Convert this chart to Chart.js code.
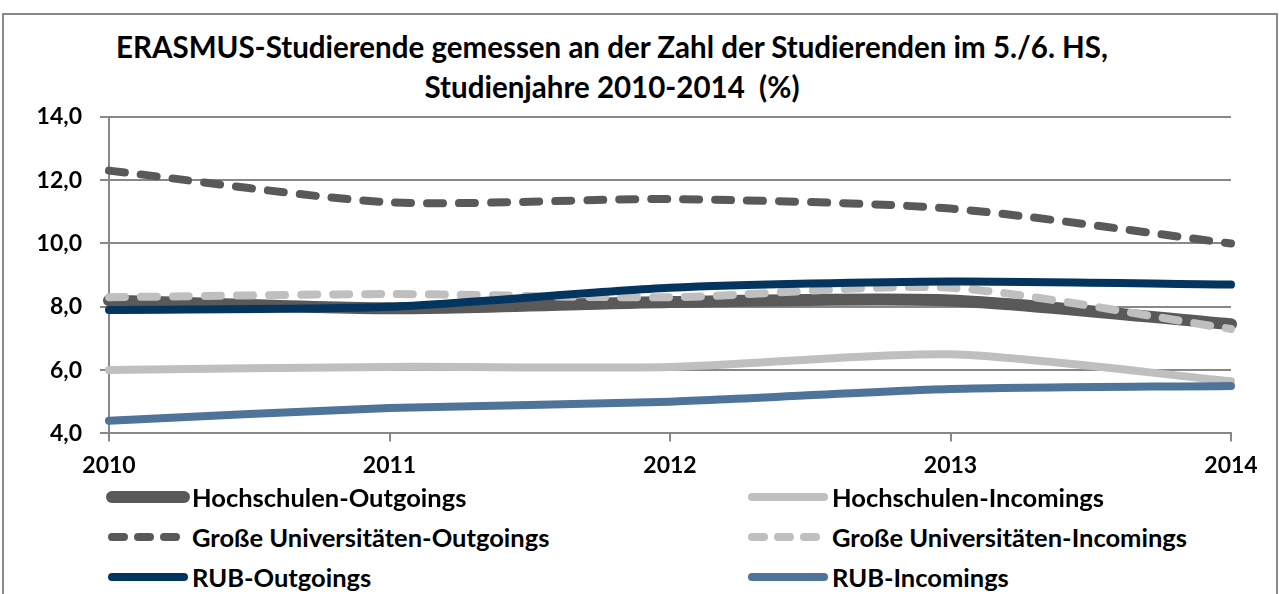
<!DOCTYPE html>
<html>
<head>
<meta charset="utf-8">
<script src="https://cdn.jsdelivr.net/npm/chart.js@4.4.1/dist/chart.umd.min.js"></script>
<style>
  body { margin: 0; background: #fff; font-family: Lato, sans-serif; }
  #wrap { position: relative; width: 1279px; height: 594px; overflow: hidden; }
  #frame { position: absolute; left: 2px; top: 13px; width: 1272px; height: 640px; border: 2px solid #888; }
  #title { position: absolute; left: 0; width: 1224px; top: 27px; text-align: center;
           font-weight: bold; font-size: 29.5px; line-height: 40px; color: #000; }
  #chartBox { position: absolute; left: 0; top: 85px; width: 1279px; height: 404px; }
  #legend { position: absolute; left: 0; top: 482px; width: 1279px; }
  .item { position: absolute; display: flex; align-items: center; font-weight: bold; font-size: 25.5px; color: #000; }
  .item canvas { margin-right: 2px; }
</style>
</head>
<body>
<div id="wrap">
  <div id="frame"></div>
  <div id="title">ERASMUS-Studierende gemessen an der Zahl der Studierenden im 5./6. HS,<br>Studienjahre 2010-2014&nbsp; (%)</div>
  <div id="chartBox"><canvas id="chart"></canvas></div>
  <div id="legend"></div>
</div>
<script>
const years = ['2010', '2011', '2012', '2013', '2014'];
const seriesNames = [
  'Hochschulen-Outgoings',
  'Hochschulen-Incomings',
  'Große Universitäten-Outgoings',
  'Große Universitäten-Incomings',
  'RUB-Outgoings',
  'RUB-Incomings'
];
const hochschulenOut = [8.2, 7.95, 8.15, 8.2, 7.45];
const hochschulenIn = [6.0, 6.1, 6.1, 6.5, 5.65];
const grosseUniOut = [12.3, 11.3, 11.4, 11.1, 10.0];
const grosseUniIn = [8.3, 8.4, 8.3, 8.6, 7.3];
const rubOut = [7.9, 8.0, 8.6, 8.8, 8.7];
const rubIn = [4.4, 4.8, 5.0, 5.4, 5.5];
const yTicks = [4, 6, 8, 10, 12, 14];

const styles = [
  { color: '#595959', width: 12, dash: [] },
  { color: '#bfbfbf', width: 8, dash: [] },
  { color: '#595959', width: 8, dash: [16, 16] },
  { color: '#bfbfbf', width: 8, dash: [16, 16] },
  { color: '#04355f', width: 8, dash: [] },
  { color: '#4f7499', width: 8, dash: [] }
];
const values = [hochschulenOut, hochschulenIn, grosseUniOut, grosseUniIn, rubOut, rubIn];

const datasets = values.map((v, i) => ({
  label: seriesNames[i],
  data: v,
  borderColor: styles[i].color,
  borderWidth: styles[i].width,
  borderDash: styles[i].dash,
  borderCapStyle: 'round',
  borderJoinStyle: 'round',
  pointRadius: 0,
  tension: 0.25,
  fill: false,
  order: 5 - i
}));

const tickFont = { family: 'Lato', weight: 'bold', size: 23 };

new Chart(document.getElementById('chart').getContext('2d'), {
  type: 'line',
  data: { labels: years, datasets: datasets },
  options: {
    responsive: true,
    maintainAspectRatio: false,
    animation: false,
    layout: { padding: { left: 0, right: 48, top: 16, bottom: 0 } },
    plugins: { legend: { display: false }, tooltip: { enabled: false }, title: { display: false } },
    scales: {
      x: {
        offset: false,
        grid: { drawOnChartArea: false, drawTicks: true, tickLength: 8, color: '#888', lineWidth: 2 },
        border: { display: true, color: '#888', width: 2 },
        ticks: { color: '#000', font: tickFont, padding: 10, maxRotation: 0 }
      },
      y: {
        min: 4,
        max: 14,
        afterBuildTicks: s => { s.ticks = yTicks.map(v => ({ value: v })); },
        afterFit: s => { s.width = 109; },
        grid: { color: '#888', lineWidth: 2, tickLength: 9 },
        border: { display: true, color: '#888', width: 2 },
        ticks: {
          color: '#000', font: tickFont, padding: 18,
          callback: v => v.toFixed(1).replace('.', ',')
        }
      }
    }
  }
});

// legend in two columns, as in the original
const legend = document.getElementById('legend');
const cols = [104, 744];
const rows = [0, 40, 80];
datasets.forEach((d, i) => {
  const item = document.createElement('div');
  item.className = 'item';
  item.style.left = cols[i % 2] + 'px';
  item.style.top = rows[Math.floor(i / 2)] + 'px';
  const c = document.createElement('canvas');
  c.width = 86; c.height = 16;
  const g = c.getContext('2d');
  g.strokeStyle = d.borderColor;
  g.lineWidth = d.borderWidth;
  g.lineCap = 'round';
  g.setLineDash(d.borderDash.length ? [12, 14] : []);
  g.beginPath(); g.moveTo(8, 8); g.lineTo(80, 8); g.stroke();
  item.appendChild(c);
  const t = document.createElement('span');
  t.textContent = d.label;
  item.appendChild(t);
  legend.appendChild(item);
});
</script>
</body>
</html>
